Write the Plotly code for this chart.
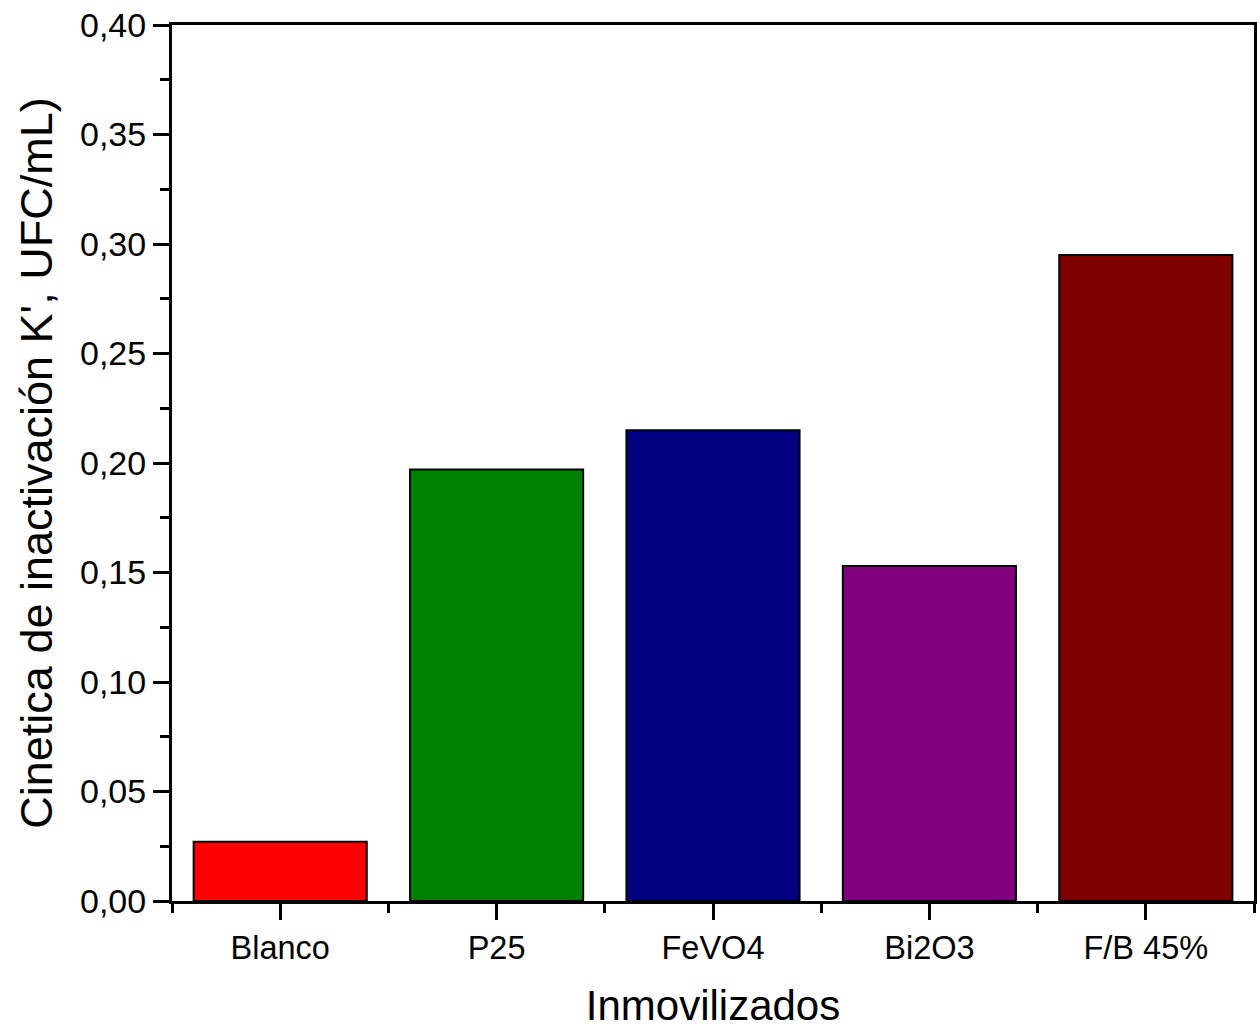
import plotly.graph_objects as go

# Inactivation kinetics per immobilised catalyst
categories = ["Blanco", "P25", "FeVO4", "Bi2O3", "F/B 45%"]
k_values = [0.027, 0.197, 0.215, 0.153, 0.295]
bar_colors = ["#FF0000", "#008000", "#000080", "#800080", "#800000"]
y_ticks = [0.00, 0.05, 0.10, 0.15, 0.20, 0.25, 0.30, 0.35, 0.40]

positions = list(range(len(categories)))

fig = go.Figure(
    go.Bar(
        x=positions,
        y=k_values,
        width=0.8,
        marker=dict(color=bar_colors, line=dict(color="black", width=2)),
        hovertext=categories,
    )
)

family = "Liberation Sans, Arial, sans-serif"
x_tick_font = dict(family=family, size=32.5, color="black")
y_tick_font = dict(family=family, size=34, color="black")
x_title_font = dict(family=family, size=42, color="black")
y_title_font = dict(family=family, size=45, color="black")

fig.update_xaxes(
    range=[-0.5, len(categories) - 0.5],
    tickmode="array",
    tickvals=positions,
    ticktext=categories,
    ticks="outside",
    ticklen=16,
    tickwidth=3,
    tickcolor="black",
    minor=dict(ticks="outside", tick0=-0.5, dtick=1, ticklen=9, tickwidth=3, tickcolor="black"),
    showline=True,
    linewidth=3,
    linecolor="black",
    mirror=True,
    showgrid=False,
    zeroline=False,
    tickfont=x_tick_font,
    title=dict(text="Inmovilizados", font=x_title_font, standoff=26),
)

fig.update_yaxes(
    range=[0, 0.40],
    tickmode="array",
    tickvals=y_ticks,
    tickformat=".2f",
    ticks="outside",
    ticklen=16,
    tickwidth=3,
    tickcolor="black",
    minor=dict(ticks="outside", tick0=0, dtick=0.025, ticklen=9, tickwidth=3, tickcolor="black"),
    showline=True,
    linewidth=3,
    linecolor="black",
    mirror=True,
    showgrid=False,
    zeroline=False,
    tickfont=y_tick_font,
    title=dict(text="Cinetica de inactivación K', UFC/mL)", font=y_title_font, standoff=14),
)

fig.update_layout(
    width=1260,
    height=1032,
    margin=dict(l=172, r=3, t=25, b=131),
    separators=",.",
    plot_bgcolor="white",
    paper_bgcolor="white",
    showlegend=False,
    bargap=0.2,
)

fig.write_html("out.html")
